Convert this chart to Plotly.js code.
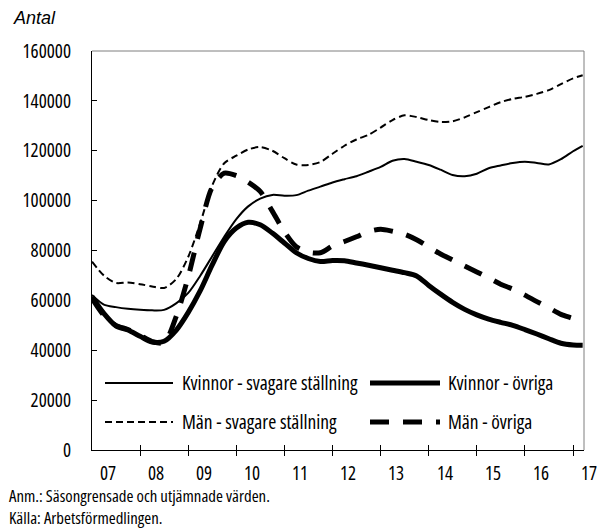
<!DOCTYPE html>
<html>
<head>
<meta charset="utf-8">
<script src="https://cdn.plot.ly/plotly-3.0.1.min.js"></script>
<style>
html,body{margin:0;padding:0;background:#fff;}
#chart{width:601px;height:532px;}
svg text{font-stretch:75%;}
</style>
</head>
<body>
<div id="chart"></div>
<script>
// ---- Data (quarterly values) ----
const dates = ["2007-01-01","2007-04-01","2007-07-01","2007-10-01",
  "2008-01-01","2008-04-01","2008-07-01","2008-10-01",
  "2009-01-01","2009-04-01","2009-07-01","2009-10-01",
  "2010-01-01","2010-04-01","2010-07-01","2010-10-01",
  "2011-01-01","2011-04-01","2011-07-01","2011-10-01",
  "2012-01-01","2012-04-01","2012-07-01","2012-10-01",
  "2013-01-01","2013-04-01","2013-07-01","2013-10-01",
  "2014-01-01","2014-04-01","2014-07-01","2014-10-01",
  "2015-01-01","2015-04-01","2015-07-01","2015-10-01",
  "2016-01-01","2016-04-01","2016-07-01","2016-10-01",
  "2017-01-01","2017-03-15"];

const kvinnorSvagare = [62200,58300,57300,56600,56200,56000,56200,58800,63000,69800,
  77600,85500,92600,97700,100800,102300,102000,102200,104000,105600,
  107300,108600,109800,111600,113500,116000,116700,115600,114300,112400,
  110300,109800,110800,113000,114100,115100,115600,115100,114500,116600,
  119800,122000];

const kvinnorOvriga = [61500,54800,49800,48100,45600,43300,43600,48000,55200,63800,
  74100,83600,89000,91300,90300,87000,83000,79100,76800,75600,
  76000,75900,75000,74100,73100,72100,71100,69800,66000,62500,
  59200,56400,54200,52500,51200,50000,48300,46500,44600,42800,
  42100,42000];

const manSvagare = [75500,70000,67000,67200,66500,65600,65000,68500,77500,90800,
  106000,115000,118000,120500,121500,120000,117000,114500,114300,115500,
  118800,122000,124500,126400,129300,132300,134200,133500,132300,131500,
  131800,133400,135500,137500,139500,140800,141600,142800,144300,146700,
  149000,150300];

const manOvriga = [60800,54000,50000,48300,46000,43500,43000,53500,69500,88800,
  105300,111000,110000,107400,103700,95800,87500,81500,79300,79100,
  81800,83600,85500,87600,88500,87700,86500,84300,81400,78600,
  76200,73800,71400,69000,66500,64500,62100,59500,57000,54400,
  52700,51100];

const seriesNames = ["Kvinnor - svagare ställning","Kvinnor - övriga","Män - svagare ställning","Män - övriga"];
const yearTicks = ["2008-01-01","2009-01-01","2010-01-01","2011-01-01","2012-01-01","2013-01-01","2014-01-01","2015-01-01","2016-01-01","2017-01-01"];
const yearLabelPos = ["2007-05-01","2008-05-01","2009-05-01","2010-05-01","2011-05-01","2012-05-01","2013-05-01","2014-05-01","2015-05-01","2016-05-01","2017-05-01"];
const yearLabels = ["07","08","09","10","11","12","13","14","15","16","17"];
const yTitle = "Antal";
const note1 = "Anm.: Säsongrensade och utjämnade värden.";
const note2 = "Källa: Arbetsförmedlingen.";

// ---- Styles ----
const COND = "Open Sans, sans-serif";
const styles = [
  {width:2, dash:"solid"},
  {width:5, dash:"solid"},
  {width:2, dash:"7px,4px"},
  {width:5, dash:"19px,14px"}
];
const seriesData = [kvinnorSvagare, kvinnorOvriga, manSvagare, manOvriga];

const traces = seriesData.map((ys, i) => ({
  type: "scatter", mode: "lines", x: dates, y: ys, name: seriesNames[i],
  line: {color: "#000", width: styles[i].width, dash: styles[i].dash, shape: "spline", smoothing: 0.8},
  showlegend: false, hoverinfo: "skip"
}));
// trace carrying the overlay axis used for the inner half of the x ticks
traces.push({type:"scatter", mode:"lines", x:[dates[0]], y:[0], xaxis:"x2", yaxis:"y", showlegend:false, hoverinfo:"skip", line:{width:0}});

// plot area in pixels: x 92..584, y 51..450
const L = 92, R = 584, T = 51, B = 450;
const px = v => (v - L) / (R - L);
const py = v => (B - v) / (B - T);
const xrange = ["2007-01-01","2017-03-25"];
const t0 = Date.parse(xrange[0]), t1 = Date.parse(xrange[1]);
const dateFrac = d => (Date.parse(d) - t0) / (t1 - t0);

const shapes = [
  {type:"line", xref:"paper", yref:"paper", x0:0, x1:1, y0:1, y1:1, line:{color:"#7f7f7f", width:1}},
  {type:"line", xref:"paper", yref:"paper", x0:1, x1:1, y0:0, y1:1, line:{color:"#7f7f7f", width:1}}
];
const annotations = [];

// legend (two columns, two rows)
const legendItems = [
  {s:0, x0:105, x1:173, y:383, tx:180},
  {s:1, x0:370, x1:440, y:383, tx:446},
  {s:2, x0:105, x1:173, y:422, tx:180},
  {s:3, x0:370, x1:440, y:422, tx:446}
];
legendItems.forEach(it => {
  shapes.push({type:"line", xref:"paper", yref:"paper", x0:px(it.x0), x1:px(it.x1), y0:py(it.y), y1:py(it.y),
    line:{color:"#000", width:styles[it.s].width, dash:styles[it.s].dash}});
  annotations.push({xref:"paper", yref:"paper", x:px(it.tx), y:py(it.y - 1), xanchor:"left", yanchor:"middle",
    text: seriesNames[it.s], showarrow:false, font:{family:COND, size:19.5, color:"#000"}});
});

// year labels (placed as text so the last one can sit past the axis end)
yearLabels.forEach((lab, i) => {
  annotations.push({xref:"paper", yref:"paper", x: dateFrac(yearLabelPos[i]), y: py(473), xanchor:"center", yanchor:"middle",
    text: lab, showarrow:false, font:{family:COND, size:19, color:"#000"}});
});

annotations.push({xref:"paper", yref:"paper", x:px(11), y:py(18), xanchor:"left", yanchor:"middle",
  text: yTitle, showarrow:false, font:{family:"Liberation Sans, Arial, sans-serif", size:18, color:"#000", style:"italic"}});
annotations.push({xref:"paper", yref:"paper", x:px(7), y:py(506), xanchor:"left", yanchor:"middle", align:"left",
  text: note1 + "<br>" + note2, showarrow:false, font:{family:COND, size:16.8, color:"#000"}});

const layout = {
  width: 601, height: 532,
  margin: {l: L, r: 601 - R, t: T, b: 532 - B, pad: 0},
  paper_bgcolor: "#fff", plot_bgcolor: "#fff",
  showlegend: false,
  xaxis: {type:"date", range: xrange, tickvals: yearTicks, ticks:"outside", ticklen:5, tickwidth:1, tickcolor:"#000",
    showticklabels:false, showgrid:false, zeroline:false, showline:true, linecolor:"#000", linewidth:1.2},
  xaxis2: {type:"date", overlaying:"x", matches:"x", anchor:"y", side:"bottom", range: xrange, tickvals: yearTicks,
    ticks:"inside", ticklen:5, tickwidth:1, tickcolor:"#000", showticklabels:false, showgrid:false, zeroline:false, showline:false},
  yaxis: {range:[0,160000], dtick:20000, tick0:0, tickformat:"d", ticks:"inside", ticklen:5, tickwidth:1, tickcolor:"#000",
    showgrid:false, zeroline:false, showline:true, linecolor:"#000", linewidth:1.2,
    ticklabelstandoff: 16, tickfont:{family:COND, size:19, color:"#000"}},
  shapes: shapes,
  annotations: annotations
};

Plotly.newPlot("chart", traces, layout, {staticPlot:true, displayModeBar:false});
</script>
</body>
</html>
